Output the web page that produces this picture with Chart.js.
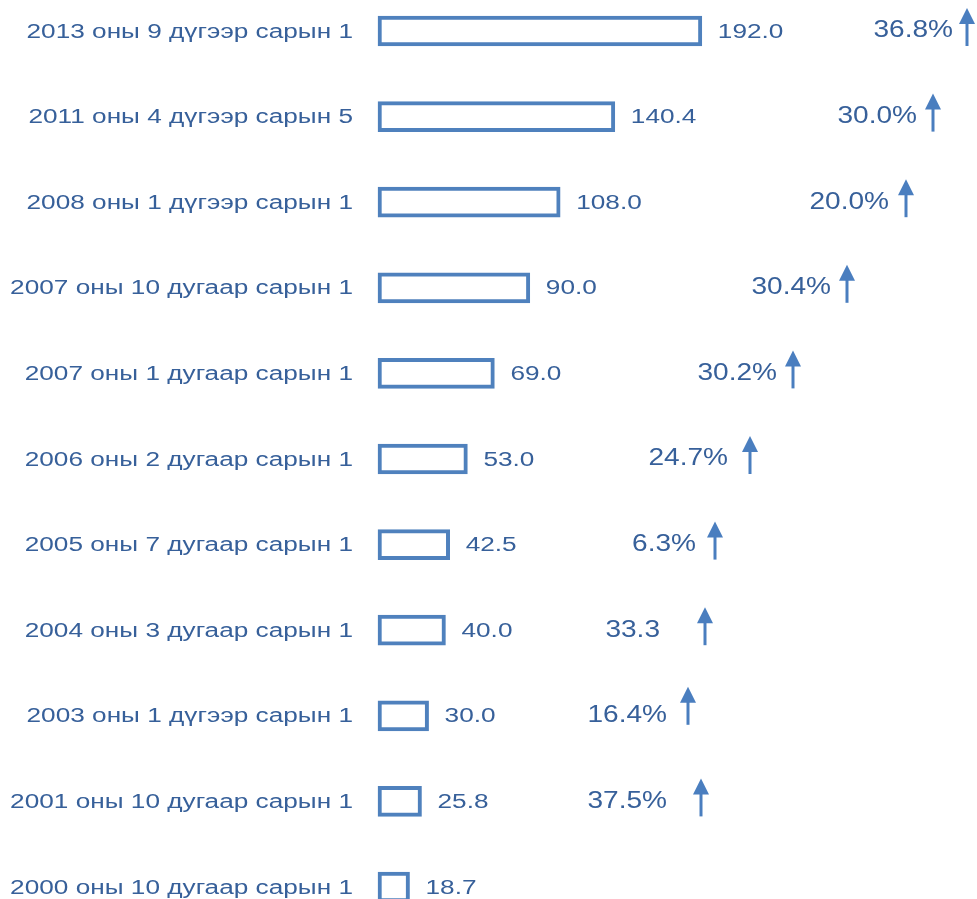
<!DOCTYPE html>
<html>
<head>
<meta charset="utf-8">
<script src="https://cdn.jsdelivr.net/npm/chart.js@4/dist/chart.umd.min.js"></script>
<style>
    html, body { margin: 0; padding: 0; background: #ffffff; }
    #wrap { width: 977px; height: 899px; position: relative; }
</style>
</head>
<body>
<div id="wrap"><canvas id="rateChart"></canvas></div>
<script>
// Dates (rows, top to bottom)
const dateLabels = [
    '2013 оны 9 дүгээр сарын 1',
    '2011 оны 4 дүгээр сарын 5',
    '2008 оны 1 дүгээр сарын 1',
    '2007 оны 10 дугаар сарын 1',
    '2007 оны 1 дугаар сарын 1',
    '2006 оны 2 дугаар сарын 1',
    '2005 оны 7 дугаар сарын 1',
    '2004 оны 3 дугаар сарын 1',
    '2003 оны 1 дүгээр сарын 1',
    '2001 оны 10 дугаар сарын 1',
    '2000 оны 10 дугаар сарын 1'
];

// Bar values
const amounts = [192.0, 140.4, 108.0, 90.0, 69.0, 53.0, 42.5, 40.0, 30.0, 25.8, 18.7];

// Growth compared to previous row (last row has none)
const growthText = ['36.8%', '30.0%', '20.0%', '30.4%', '30.2%', '24.7%', '6.3%', '33.3', '16.4%', '37.5%', null];

document.addEventListener('DOMContentLoaded', function() {

    const TEXT_COLOR = '#37609a';
    const BAR_COLOR = '#4f81bd';
    const ARROW_COLOR = '#4a7ebf';
    const FONT = '"Liberation Sans", Arial, sans-serif';

    // hand placement of the growth notes (right edge of text, arrow x, arrow shift)
    const growthRight = [953, 917, 889, 831, 777, 728, 696, 660, 667, 667];
    const arrowX = [967, 933, 906, 847, 793, 750, 715, 705, 688, 701];
    const arrowShift = [0, 0, 0, 0, 0, 0, 0, 0, -6, 0];

    // text in the picture is stretched sideways
    function stretchText(ctx, text, x, y, align, size, sx) {
        ctx.save();
        ctx.translate(x, y);
        ctx.scale(sx, 1);
        ctx.font = size + 'px ' + FONT;
        ctx.textAlign = align;
        ctx.textBaseline = 'middle';
        ctx.fillStyle = TEXT_COLOR;
        ctx.fillText(text, 0, 0);
        ctx.restore();
    }

    function drawArrow(ctx, x, cy) {
        const top = cy - 23, bottom = cy + 15;
        ctx.save();
        ctx.strokeStyle = ARROW_COLOR;
        ctx.fillStyle = ARROW_COLOR;
        ctx.lineWidth = 3;
        ctx.beginPath();
        ctx.moveTo(x, bottom);
        ctx.lineTo(x, top + 12);
        ctx.stroke();
        ctx.beginPath();
        ctx.moveTo(x, top);
        ctx.lineTo(x - 8, top + 16);
        ctx.lineTo(x + 8, top + 16);
        ctx.closePath();
        ctx.fill();
        ctx.restore();
    }

    const labelPlugin = {
        id: 'labelPlugin',
        afterDatasetsDraw(chart) {
            const ctx = chart.ctx;
            const yScale = chart.scales.y;
            const meta = chart.getDatasetMeta(0);

            dateLabels.forEach((label, i) => {
                const cy = yScale.getPixelForTick(i);
                stretchText(ctx, label, 353, cy + 1, 'right', 20, 1.31);

                const bar = meta.data[i];
                stretchText(ctx, amounts[i].toFixed(1), bar.x + 16, cy + 1, 'left', 20, 1.31);

                if (growthText[i]) {
                    stretchText(ctx, growthText[i], growthRight[i], cy, 'right', 23, 1.22);
                    drawArrow(ctx, arrowX[i], cy + arrowShift[i]);
                }
            });
        }
    };

    const ctx = document.getElementById('rateChart').getContext('2d');

    new Chart(ctx, {
        type: 'bar',
        data: {
            labels: dateLabels,
            datasets: [{
                data: amounts,
                backgroundColor: '#ffffff',
                borderColor: BAR_COLOR,
                borderWidth: 4,
                borderSkipped: false,
                barThickness: 30,
                clip: false
            }]
        },
        options: {
            indexAxis: 'y',
            responsive: true,
            maintainAspectRatio: false,
            animation: false,
            layout: {
                padding: { top: 31, bottom: 12, left: 378, right: 12 }
            },
            scales: {
                x: {
                    display: false,
                    min: 0,
                    max: 348
                },
                y: {
                    display: false,
                    offset: false
                }
            },
            plugins: {
                legend: { display: false },
                tooltip: { enabled: false }
            }
        },
        plugins: [labelPlugin]
    });
});
</script>
</body>
</html>
